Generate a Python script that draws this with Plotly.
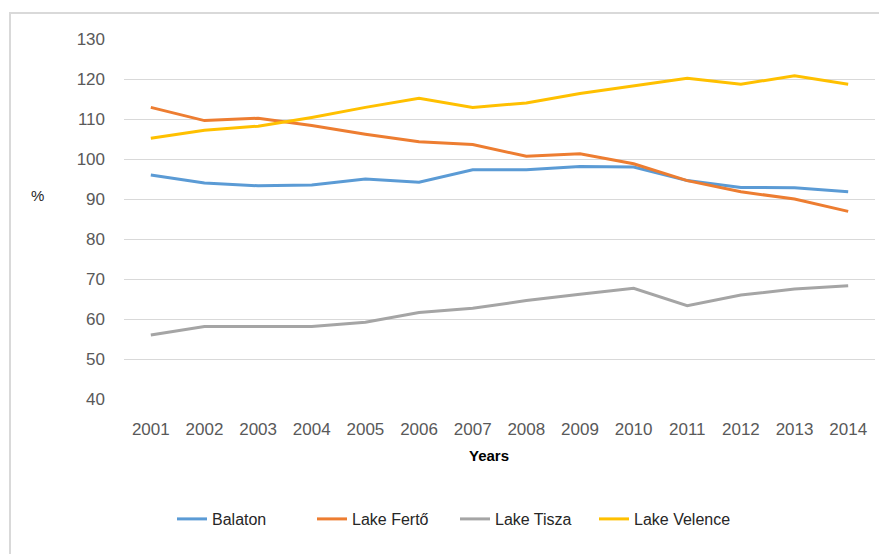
import plotly.graph_objects as go

years = ['2001', '2002', '2003', '2004', '2005', '2006', '2007',
         '2008', '2009', '2010', '2011', '2012', '2013', '2014']
balaton = [96.0, 94.0, 93.3, 93.5, 95.0, 94.2, 97.3, 97.3, 98.1, 98.0, 94.6, 92.9, 92.8, 91.8]
ferto = [112.9, 109.6, 110.2, 108.4, 106.2, 104.3, 103.6, 100.7, 101.3, 98.8, 94.6, 91.8, 90.0, 86.9]
tisza = [56.0, 58.1, 58.1, 58.1, 59.2, 61.6, 62.7, 64.6, 66.2, 67.7, 63.3, 66.0, 67.5, 68.3]
velence = [105.2, 107.2, 108.2, 110.4, 112.9, 115.2, 112.9, 114.0, 116.4, 118.3, 120.2, 118.7, 120.8, 118.7]

series = [
    ('Balaton', balaton, '#5B9BD5'),
    ('Lake Fertő', ferto, '#ED7D31'),
    ('Lake Tisza', tisza, '#A5A5A5'),
    ('Lake Velence', velence, '#FFC000'),
]

# page body adds 8px margin, so the figure is drawn 8px smaller
off = 8
W, H = 887 - off, 554 - off
L, R, T, B = 124 - off, 12, 39 - off, 155
pw = W - L - R
ph = H - T - B


def px_x(x):
    return (x - off - L) / pw


def px_y(y):
    return (H - B - (y - off)) / ph


# one legend per series so each entry sits where the original has it
legend_left = [172, 312, 455, 594]
legend_ids = ['legend', 'legend2', 'legend3', 'legend4']

fig = go.Figure()
for (name, vals, col), lid in zip(series, legend_ids):
    fig.add_trace(go.Scatter(x=years, y=vals, name=name, mode='lines',
                             line=dict(color=col, width=3), legend=lid))

legend_style = dict(
    orientation='h', xanchor='left', yanchor='middle',
    y=px_y(519), bgcolor='rgba(0,0,0,0)',
    font=dict(size=16, color='#262626'),
)
fig.update_layout(
    width=W, height=H,
    margin=dict(l=L, r=R, t=T, b=B, autoexpand=False),
    paper_bgcolor='white',
    plot_bgcolor='white',
    font=dict(family='Liberation Sans, Arial, sans-serif', size=17, color='#595959'),
    showlegend=True,
)
for lid, lx in zip(legend_ids, legend_left):
    fig.update_layout({lid: dict(legend_style, x=px_x(lx))})

fig.update_xaxes(
    type='category',
    range=[-0.5, 13.5],
    showgrid=False,
    showline=False,
    ticks='',
    ticklabelstandoff=18,
    tickfont=dict(size=17, color='#595959'),
)
fig.update_yaxes(
    range=[40, 130],
    dtick=10,
    showgrid=True,
    gridcolor='#D9D9D9',
    gridwidth=1,
    zeroline=False,
    showline=False,
    ticks='',
    ticklabelstandoff=18,
    tickfont=dict(size=17, color='#595959'),
)

# axis titles
fig.add_annotation(text='<b>Years</b>', x=px_x(489), y=px_y(456), xref='paper', yref='paper',
                   xanchor='center', yanchor='middle',
                   showarrow=False, font=dict(size=15, color='black'))
fig.add_annotation(text='%', x=px_x(37), y=px_y(195), xref='paper', yref='paper',
                   xanchor='center', yanchor='middle',
                   showarrow=False, font=dict(size=15, color='#262626'))

# outer chart border
fig.add_shape(type='rect', xref='paper', yref='paper',
              x0=px_x(10), x1=px_x(900),
              y0=px_y(570), y1=px_y(13),
              line=dict(color='#D9D9D9', width=2), fillcolor='rgba(0,0,0,0)')

fig.write_html("out.html")
